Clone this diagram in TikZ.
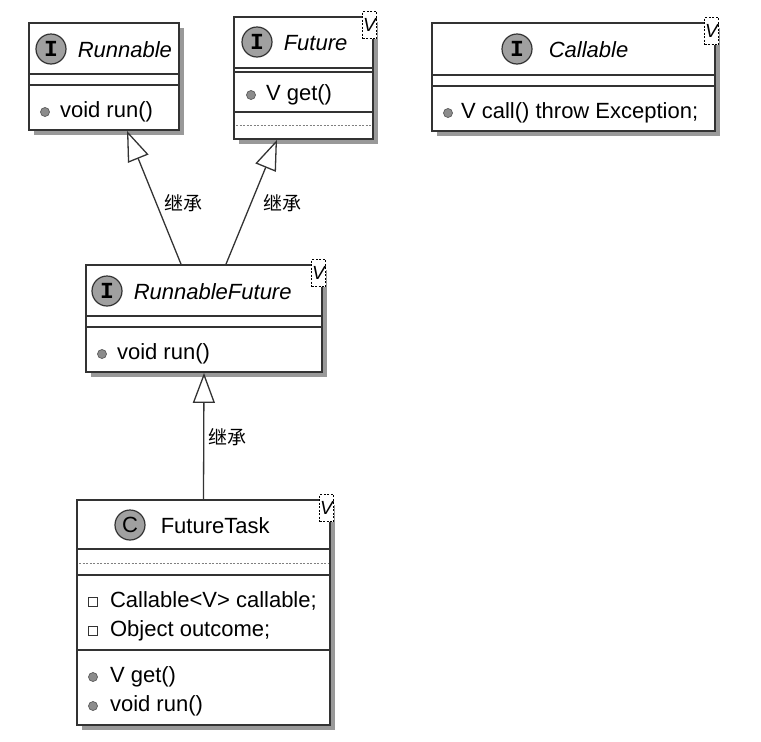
\documentclass[tikz,border=0pt]{standalone}
\usepackage{fontspec}
\setmainfont{Liberation Sans}
\newfontfamily\cjk{Noto Sans CJK SC}
\newfontfamily\iconfont{Liberation Mono}
\usetikzlibrary{positioning,shadows,arrows.meta}
\definecolor{edgegray}{HTML}{333333}
\definecolor{icongray}{HTML}{A0A0A0}
\definecolor{dotgray}{HTML}{8C8C8C}
\tikzset{
  classbox/.style={draw=edgegray,line width=1.8pt,fill=white,inner sep=0pt,
    drop shadow={shadow xshift=5pt,shadow yshift=-5pt,fill=black,opacity=.4}},
  sepline/.style={draw=edgegray,line width=1.2pt},
  dotline/.style={draw=gray,line width=.8pt,dash pattern=on 2pt off 1.5pt},
  iconcirc/.style={circle,draw=edgegray,line width=1.2pt,fill=icongray,minimum size=30pt,inner sep=0pt},
  classname/.style={anchor=west,inner sep=0pt,text height=16pt,text depth=0pt,font=\fontsize{22}{26}\selectfont},
  member/.style={anchor=west,inner sep=0pt,text height=11pt,text depth=0pt,font=\fontsize{22}{26}\selectfont},
  mdot/.style={circle,draw=edgegray!80,line width=.7pt,fill=dotgray,minimum size=9pt,inner sep=0pt},
  fbox/.style={rectangle,draw=edgegray,line width=.8pt,fill=white,minimum size=9pt,inner sep=0pt},
  tparam/.style={anchor=north east,draw=black,line width=.8pt,dash pattern=on 2pt off 1.5pt,fill=white,
    minimum width=14pt,minimum height=27pt,inner sep=0pt,font=\itshape\fontsize{19}{19}\selectfont},
  inherit/.style={draw=edgegray,line width=1.3pt,-{Triangle[length=30pt,width=22pt,fill=white]}},
  lbl/.style={inner sep=0pt,font=\cjk\fontsize{19}{19}\selectfont}
}
\begin{document}
\begin{tikzpicture}[x=1pt,y=-1pt]
  \useasboundingbox (0,0) rectangle (761,742);

  % Runnable
  \node[classbox,minimum width=150pt,minimum height=107pt] (run) at (104,76.5) {};
  \draw[sepline] (29,74) -- (179,74);
  \draw[sepline] (29,85) -- (179,85);
  \node[iconcirc,font=\iconfont\bfseries\fontsize{23}{23}\selectfont] (runI) at (51,49) {I};
  \node[classname,right=11pt of runI] (runN) {\itshape Runnable};
  \node[mdot] (runD1) at (45,112) {};
  \node[member,right=10pt of runD1] (runM1) {void run()};

  % Future
  \node[classbox,minimum width=139pt,minimum height=122pt] (fut) at (303.5,78) {};
  \draw[sepline] (234,68) -- (373,68);
  \draw[sepline] (234,72) -- (373,72);
  \draw[sepline] (234,112) -- (373,112);
  \draw[dotline] (236,125) -- (371,125);
  \node[iconcirc,font=\iconfont\bfseries\fontsize{23}{23}\selectfont] (futI) at (257,42) {I};
  \node[classname,right=11pt of futI] (futN) {\itshape Future};
  \node[tparam] (futV) at ([xshift=3pt,yshift=5pt]fut.north east) {V};
  \node[mdot] (futD1) at (251,95) {};
  \node[member,right=10pt of futD1] (futM1) {V get()};

  % Callable
  \node[classbox,minimum width=283pt,minimum height=108pt] (cal) at (573.5,77) {};
  \draw[sepline] (432,75) -- (715,75);
  \draw[sepline] (432,86) -- (715,86);
  \node[iconcirc,font=\iconfont\bfseries\fontsize{23}{23}\selectfont] (calI) at (517,49) {I};
  \node[classname,right=16pt of calI] (calN) {\itshape Callable};
  \node[tparam] (calV) at ([xshift=3pt,yshift=5pt]cal.north east) {V};
  \node[mdot] (calD1) at (448,113) {};
  \node[member,right=8pt of calD1] (calM1) {V call() throw Exception;};

  % RunnableFuture
  \node[classbox,minimum width=236pt,minimum height=107pt] (rf) at (204,318.5) {};
  \draw[sepline] (86,316) -- (322,316);
  \draw[sepline] (86,327) -- (322,327);
  \node[iconcirc,font=\iconfont\bfseries\fontsize{23}{23}\selectfont] (rfI) at (107,291) {I};
  \node[classname,right=11pt of rfI] (rfN) {\itshape RunnableFuture};
  \node[tparam] (rfV) at ([xshift=3pt,yshift=5pt]rf.north east) {V};
  \node[mdot] (rfD1) at (102,354) {};
  \node[member,right=10pt of rfD1] (rfM1) {void run()};

  % FutureTask
  \node[classbox,minimum width=253pt,minimum height=225pt] (ft) at (203.5,612.5) {};
  \draw[sepline] (77,549) -- (330,549);
  \draw[dotline] (79,563) -- (328,563);
  \draw[sepline] (77,575) -- (330,575);
  \draw[sepline] (77,650) -- (330,650);
  \node[iconcirc,font=\fontsize{22}{22}\selectfont] (ftI) at (130,525) {C};
  \node[classname,right=15pt of ftI] (ftN) {FutureTask};
  \node[tparam] (ftV) at ([xshift=3pt,yshift=5pt]ft.north east) {V};
  \node[fbox] (ftF1) at (93,602) {};
  \node[member,right=12pt of ftF1] (ftA1) {Callable<V> callable;};
  \node[fbox] (ftF2) at (93,631) {};
  \node[member,right=12pt of ftF2] (ftA2) {Object outcome;};
  \node[mdot] (ftD1) at (93,677) {};
  \node[member,right=12pt of ftD1] (ftM1) {V get()};
  \node[mdot] (ftD2) at (93,706) {};
  \node[member,right=12pt of ftD2] (ftM2) {void run()};

  % 継承
  \coordinate (rfL) at ([xshift=-23pt]rf.north);
  \coordinate (rfR) at ([xshift=22pt]rf.north);
  \coordinate (runTip) at ([xshift=23pt]run.south);
  \coordinate (futTip) at ([xshift=-26.5pt]fut.south);
  \draw[inherit] (rfL) -- (runTip);
  \draw[inherit] (rfR) -- (futTip);
  \draw[inherit] (ft.north) -- (rf.south);
  \node[lbl] (lbl1) at (183,203.5) {继承};
  \node[lbl] (lbl2) at (282,203.5) {继承};
  \node[lbl] (lbl3) at (227,437) {继承};
\end{tikzpicture}
\end{document}
